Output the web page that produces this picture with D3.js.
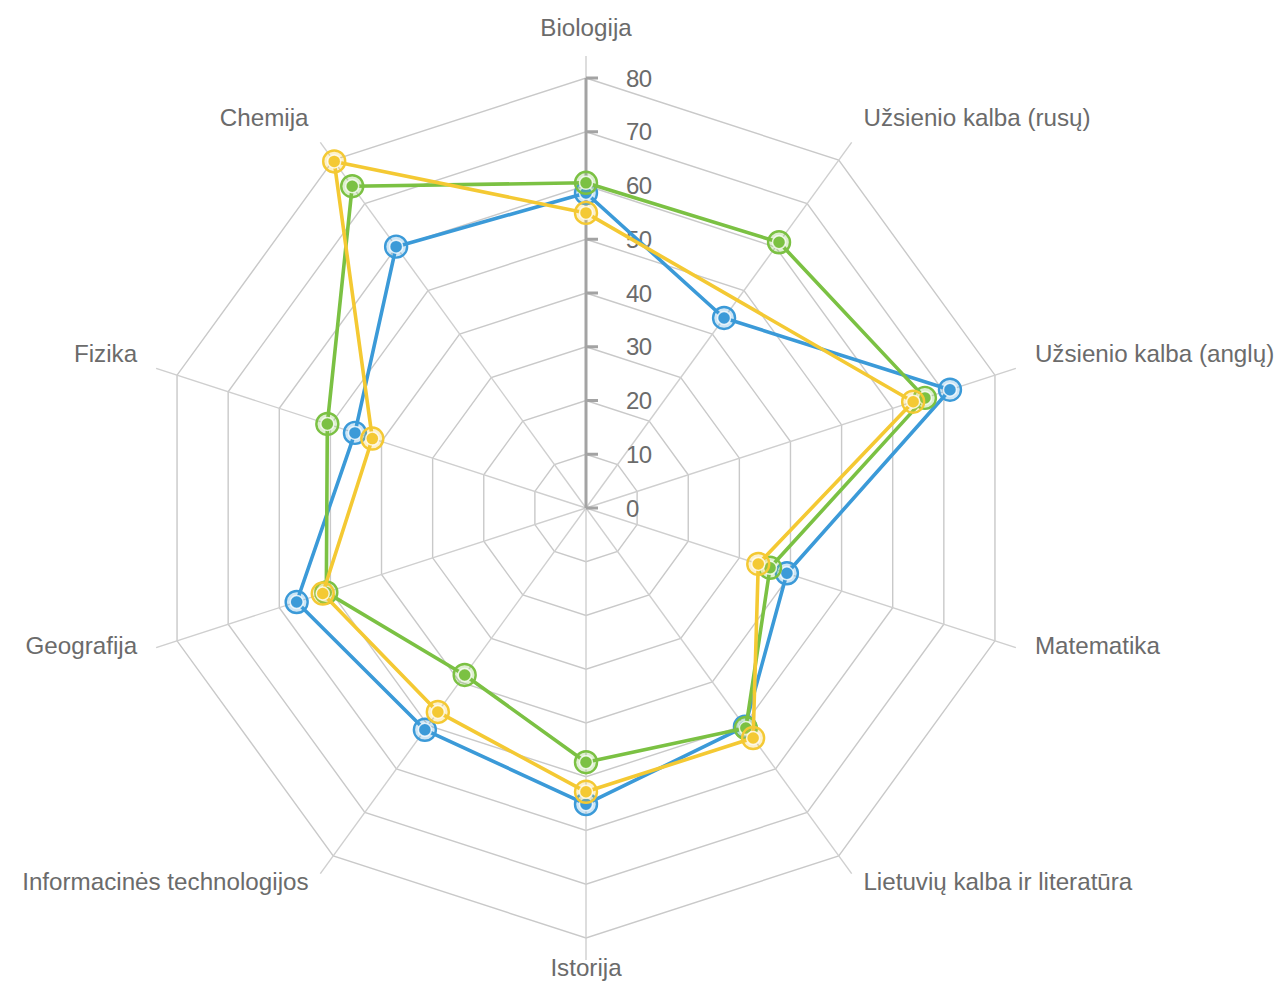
<!DOCTYPE html>
<html>
<head>
<meta charset="utf-8">
<script src="https://cdn.jsdelivr.net/npm/d3@7"></script>
<style>
  html, body { margin: 0; padding: 0; background: #fff; }
  svg { display: block; }
  text { font-family: "Liberation Sans", Arial, sans-serif; }
</style>
</head>
<body>
<svg id="chart" width="1278" height="989"></svg>
<script>
// subjects, clockwise from the top
const subjects = [
	'Biologija', 'Užsienio kalba (rusų)', 'Užsienio kalba (anglų)', 'Matematika',
	'Lietuvių kalba ir literatūra', 'Istorija', 'Informacinės technologijos',
	'Geografija', 'Fizika', 'Chemija'
];

const blueValues   = [58.6, 43.7, 71.2, 39.3, 50.3, 55.1, 51.0, 56.6, 45.2, 60.1];
const greenValues  = [60.5, 61.1, 66.3, 36.0, 50.6, 47.3, 38.4, 50.8, 50.6, 74.0];
const yellowValues = [54.9, null, 64.0, 33.7, 52.9, 52.8, 46.9, 51.5, 41.8, 79.7];

const tickValues = [0, 10, 20, 30, 40, 50, 60, 70, 80];

const series = [
	{ name: 'blue', color: '#3b9ad8', values: blueValues },
	{ name: 'green', color: '#7bc143', values: greenValues },
	{ name: 'yellow', color: '#f4c933', values: yellowValues }
];

let svg = d3.select('#chart'),
	cx = 586,
	cy = 508,
	maxR = 430,
	spokeR = 452,
	labelR = 472,
	g = svg.append('g').attr('transform', `translate(${cx}, ${cy})`);

let r = d3.scaleLinear().domain([0, 80]).range([0, maxR]);
let angle = d3.scaleLinear().domain([0, subjects.length]).range([0, 2 * Math.PI]);

let pt = (i, radius) => [
	radius * Math.sin(angle(i)),
	-radius * Math.cos(angle(i))
];

// grid rings
let ring = d3.line();
tickValues.slice(1).forEach(t => {
	let pts = subjects.map((s, i) => pt(i, r(t)));
	g.append('path')
		.attr('d', ring(pts) + 'Z')
		.attr('fill', 'none')
		.attr('stroke', '#c9c9c9')
		.attr('stroke-width', 1.4);
});

// spokes
subjects.forEach((s, i) => {
	let [x, y] = pt(i, spokeR);
	g.append('line')
		.attr('x1', 0).attr('y1', 0)
		.attr('x2', x).attr('y2', y)
		.attr('stroke', '#cfcfcf')
		.attr('stroke-width', 1.4);
});

// value axis on the first spoke
let axis = g.append('g');
axis.append('line')
	.attr('x1', 0).attr('y1', 0)
	.attr('x2', 0).attr('y2', -r(80))
	.attr('stroke', '#a3a3a3')
	.attr('stroke-width', 3);

axis.selectAll('line.tick')
	.data(tickValues)
	.enter()
	.append('line')
	.attr('class', 'tick')
	.attr('x1', 0).attr('x2', 12)
	.attr('y1', d => -r(d))
	.attr('y2', d => -r(d))
	.attr('stroke', '#a3a3a3')
	.attr('stroke-width', 3);

axis.selectAll('text')
	.data(tickValues)
	.enter()
	.append('text')
	.attr('x', 40)
	.attr('y', d => -r(d))
	.attr('dy', '0.36em')
	.attr('fill', '#6b6b6b')
	.attr('font-size', 24)
	.attr('letter-spacing', '-0.5')
	.text(d => d);

// category labels
g.selectAll('text.cat')
	.data(subjects)
	.enter()
	.append('text')
	.attr('class', 'cat')
	.attr('x', (d, i) => pt(i, labelR)[0])
	.attr('y', (d, i) => pt(i, labelR)[1] + (i === 5 ? -4 : 0))
	.attr('text-anchor', (d, i) => i === 0 || i === 5 ? 'middle' : (i < 5 ? 'start' : 'end'))
	.attr('fill', '#6b6b6b')
	.attr('font-size', 24.2)
	.text(d => d);

// series lines and markers
let line = d3.line()
	.x(d => pt(d.i, r(d.v))[0])
	.y(d => pt(d.i, r(d.v))[1]);

series.forEach(s => {
	let data = s.values
		.map((v, i) => ({ i: i, v: v }))
		.filter(d => d.v !== null);

	g.append('path')
		.datum(data.concat([data[0]]))
		.attr('fill', 'none')
		.attr('stroke', s.color)
		.attr('stroke-width', 3.6)
		.attr('stroke-linejoin', 'round')
		.attr('d', line);

	let marks = g.selectAll('g.mark-' + s.name)
		.data(data)
		.enter()
		.append('g')
		.attr('class', 'mark-' + s.name)
		.attr('transform', d => `translate(${pt(d.i, r(d.v))})`);

	marks.append('circle')
		.attr('r', 11)
		.attr('fill', s.color)
		.attr('fill-opacity', 0.25)
		.attr('stroke', s.color)
		.attr('stroke-width', 2.4);

	marks.append('circle')
		.attr('r', 6.5)
		.attr('fill', s.color)
		.attr('stroke', '#fff')
		.attr('stroke-opacity', 0.8)
		.attr('stroke-width', 1.5);
});
</script>
</body>
</html>
